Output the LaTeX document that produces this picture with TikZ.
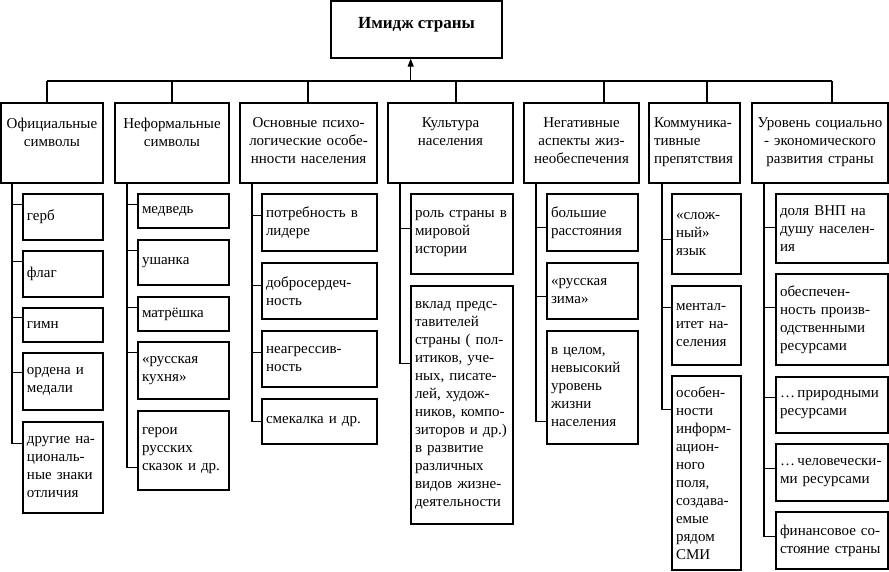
\documentclass[tikz,border=0pt]{standalone}
\usepackage{fontspec}
\setmainfont{Liberation Serif}
\usetikzlibrary{arrows.meta}
\tikzset{
  frame/.style={draw, line width=1.1pt, inner sep=0pt},
  lbl/.style={font=\fontsize{15}{18}\selectfont, inner sep=0pt},
  sub/.style={draw, line width=1.1pt, font=\fontsize{15}{18}\selectfont, align=left, inner xsep=4pt, inner ysep=0pt},
  link/.style={line width=1.1pt},
}
\newcommand{\mybox}[6]{%
  \pgfmathsetmacro{\bw}{#4-#2}\pgfmathsetmacro{\bh}{#5-#3}\pgfmathsetmacro{\tw}{#4-#2-8}%
  \node[sub, minimum width=\bw pt, minimum height=\bh pt, text width=\tw pt] (#1) at ({(#2+#4)/2},{(#3+#5)/2}) {#6};}
\newcommand{\myhead}[5]{%
  \pgfmathsetmacro{\bw}{#3-#2}\pgfmathsetmacro{\tw}{#3-#2-10}%
  \node[frame, minimum width=\bw pt, minimum height=80pt] (#1) at ({(#2+#3)/2},143) {};
  \node[lbl, anchor=north, text width=\tw pt, align=#4] (#1t) at ([yshift=-15]#1.north) {#5};}
\begin{document}
\begin{tikzpicture}[x=1pt,y=-1pt]
\useasboundingbox (0,0) rectangle (889,571);
\hyphenpenalty=10000
% top
\node[frame, minimum width=171pt, minimum height=57pt] (top) at (416.5,29.5) {};
\node[font=\bfseries\fontsize{17}{20}\selectfont, inner sep=0pt] (toptxt) at (416.5,24.5) {Имидж страны};
% headers
\myhead{h1}{1}{103}{center}{Официальные\\символы}
\myhead{h2}{115}{229}{center}{Неформальные\\символы}
\myhead{h3}{240}{377}{center}{Основные психо-\\логические особе-\\нности населения}
\myhead{h4}{388}{513}{center}{Культура\\населения}
\myhead{h5}{524}{639}{center}{Негативные\\аспекты жиз-\\необеспечения}
\myhead{h6}{649}{740}{left}{Коммуника-\\тивные\\препятствия}
\myhead{h7}{752}{888}{center}{Уровень социально\\- экономического\\развития страны}
% bus
\coordinate (ab) at (410.7,81);
\foreach \i/\x in {1/47,2/172,3/308,4/456,5/604,6/707,7/832} \coordinate (d\i) at (\x,81);
\draw[link] (d1) -- (d7);
\foreach \i in {1,...,7} \draw[link] (d\i) -- (d\i |- h\i.north);
\draw[link, -{Triangle[length=8pt,width=6pt]}] (ab) -- (ab |- top.south);
% column 1
\mybox{b11}{23}{194}{103}{240}{герб}
\mybox{b12}{23}{251}{103}{297}{флаг}
\mybox{b13}{23}{308}{103}{342}{гимн}
\mybox{b14}{23}{353}{103}{410}{ордена и\\медали}
\mybox{b15}{23}{422}{103}{513}{другие на-\\циональ-\\ные знаки\\отличия}
% column 2
\mybox{b21}{138}{194}{229}{228}{медведь}
\mybox{b22}{138}{240}{229}{285}{ушанка}
\mybox{b23}{138}{297}{229}{331}{матрёшка}
\mybox{b24}{138}{342}{229}{399}{«русская\\кухня»}
\mybox{b25}{138}{411}{229}{490}{герои\\русских\\сказок и др.}
% column 3
\mybox{b31}{262}{194}{377}{251}{потребность в\\лидере}
\mybox{b32}{262}{263}{377}{319}{добросердеч-\\ность}
\mybox{b33}{262}{331}{377}{387}{неагрессив-\\ность}
\mybox{b34}{262}{399}{377}{444}{смекалка и др.}
% column 4
\mybox{b41}{411}{194}{513}{274}{роль страны в\\мировой\\истории}
\mybox{b42}{411}{286}{513}{524}{вклад предс-\\тавителей\\страны ( пол-\\итиков, уче-\\ных, писате-\\лей, худож-\\ников, компо-\\зиторов и др.)\\в развитие\\различных\\видов жизне-\\деятельности}
% column 5
\mybox{b51}{547}{194}{638}{251}{большие\\расстояния}
\mybox{b52}{547}{263}{638}{319}{«русская\\зима»}
\mybox{b53}{547}{331}{638}{444}{в целом,\\невысокий\\уровень\\жизни\\населения}
% column 6
\mybox{b61}{672}{194}{741}{274}{«слож-\\ный»\\язык}
\mybox{b62}{672}{286}{741}{365}{ментал-\\итет на-\\селения}
\mybox{b63}{672}{376}{741}{570}{особен-\\ности\\информ-\\ацион-\\ного\\поля,\\создава-\\емые\\рядом\\СМИ}
% column 7
\mybox{b71}{776}{194}{888}{263}{доля ВНП на\\душу населен-\\ия}
\mybox{b72}{776}{274}{888}{365}{обеспечен-\\ность произв-\\одственными\\ресурсами}
\mybox{b73}{776}{377}{888}{433}{…\,природными\\ресурсами}
\mybox{b74}{776}{444}{888}{501}{…\,человечески-\\ми ресурсами}
\mybox{b75}{776}{512}{888}{569}{финансовое со-\\стояние страны}
% trunks
\foreach \i/\x in {1/12,2/127,3/252,4/400,5/536,6/662,7/764} \coordinate (t\i) at (\x,183);
\foreach \b/\t/\o in {b11/t1/11,b12/t1/11,b13/t1/10,b14/t1/20,b15/t1/22,
  b21/t2/11,b22/t2/11,b23/t2/11,b24/t2/11,b25/t2/57,
  b31/t3/22,b32/t3/23,b33/t3/22,b34/t3/23,
  b41/t4/35,b42/t4/78,
  b51/t5/34,b52/t5/34,b53/t5/91,
  b61/t6/46,b62/t6/22,b63/t6/34,
  b71/t7/34,b72/t7/34,b73/t7/21,b74/t7/25,b75/t7/25}
  \draw[link] (\t) |- ([yshift=-\o]\b.north west);
\end{tikzpicture}
\end{document}
